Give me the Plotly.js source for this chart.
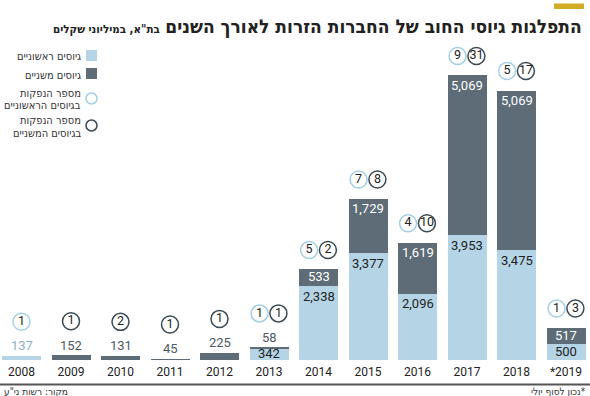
<!DOCTYPE html>
<html>
<head>
<meta charset="utf-8">
<script src="https://cdn.plot.ly/plotly-3.0.1.min.js"></script>
<style>html,body{margin:0;padding:0;background:#fff;}#chart{width:590px;height:396px;}</style>
</head>
<body>
<div id="chart"></div>
<script>
// ---- data ----
const years = ['2008', '2009', '2010', '2011', '2012', '2013', '2014', '2015', '2016', '2017', '2018', '*2019'];
const primaryRaised = [137, null, null, null, null, 342, 2338, 3377, 2096, 3953, 3475, 500];      // גיוסים ראשוניים
const secondaryRaised = [null, 152, 131, 45, 225, 58, 533, 1729, 1619, 5069, 5069, 517];      // גיוסים משניים
const primaryCount = [1, null, null, null, null, 1, 5, 7, 4, 9, 5, 1];
const secondaryCount = [null, 1, 2, 1, 1, 1, 2, 8, 10, 31, 17, 3];

const titleText = 'התפלגות גיוסי החוב של החברות הזרות לאורך השנים';
const subtitleText = 'בת"א, במיליוני שקלים';
const legendLabels = [['גיוסים ראשוניים'], ['גיוסים משניים'], ['מספר הנפקות', 'בגיוסים הראשוניים'], ['מספר הנפקות', 'בגיוסים המשניים']];
const sourceText = 'מקור: רשות ני"ע';
const noteText = '\u200F*נכון לסוף יולי';

// ---- style ----
const W = 590, H = 396, MT = 40, MB = 36;
const PH = H - MT - MB;            // plot height px
const YMAX = 10146;                // data range
const K = PH / YMAX;               // px per unit
const LIGHT = '#b5d5e7', DARK = '#5d6c77';
const CIRC_LIGHT = '#a3cfe6', CIRC_DARK = '#3c4a54';
const HEB = '"Liberation Sans Narrow", "DejaVu Sans Condensed", "Liberation Sans", sans-serif';
const NUM = 'Roboto, "Open Sans", sans-serif';
const idx = years.map((_, i) => i);
const XR = [-21.5 / 49.5, -21.5 / 49.5 + W / 49.5];
const px2paperY = py => (H - MB - py) / PH;
const px2paperX = px => px / W;

const traces = [
  {type: 'bar', x: idx, y: primaryRaised, marker: {color: LIGHT}, hoverinfo: 'skip'},
  {type: 'bar', x: idx, y: secondaryRaised, marker: {color: DARK}, hoverinfo: 'skip'}
];

const annotations = [];
// value labels
idx.forEach(i => {
  const p = primaryRaised[i] || 0, s = secondaryRaised[i] || 0, total = p + s;
  const segs = [];
  if (p) segs.push({v: p, base: 0, dark: false});
  if (s) segs.push({v: s, base: p, dark: true});
  segs.forEach(sg => {
    const h = sg.v * K;
    let y, yshift, color;
    if (h >= 20) { y = sg.base + sg.v; yshift = -10; color = sg.dark ? '#ffffff' : '#222'; }
    else if (h >= 10) { y = sg.base + sg.v / 2; yshift = 1; color = sg.dark ? '#ffffff' : '#222'; }
    else { y = total; yshift = 10; color = sg.dark ? '#4d5a64' : '#8db3c8'; }
    annotations.push({x: i, y: y, xref: 'x', yref: 'y', yshift: yshift, showarrow: false,
      text: sg.v.toLocaleString('en-US'), font: {family: NUM, size: 13, color: color}, yanchor: 'middle'});
  });
});

// count circles
const cL = {x: [], y: [], text: []}, cD = {x: [], y: [], text: []};
idx.forEach(i => {
  const p = primaryRaised[i] || 0, s = secondaryRaised[i] || 0, total = p + s;
  const outside = (s ? s : p) * K < 10;
  const off = (outside ? 34 : 19.5) / K;
  const both = primaryCount[i] != null && secondaryCount[i] != null;
  if (primaryCount[i] != null) { cL.x.push(both ? i - 0.19 : i); cL.y.push(total + off); cL.text.push(String(primaryCount[i])); }
  if (secondaryCount[i] != null) { cD.x.push(both ? i + 0.19 : i); cD.y.push(total + off); cD.text.push(String(secondaryCount[i])); }
});
[[cL, CIRC_LIGHT], [cD, CIRC_DARK]].forEach(([c, col]) => {
  traces.push({type: 'scatter', mode: 'markers+text', x: c.x, y: c.y, text: c.text, textposition: 'middle center',
    cliponaxis: false, hoverinfo: 'skip',
    marker: {size: 17, color: '#ffffff', line: {color: col, width: 1.5}},
    textfont: {family: NUM, size: 12.5, color: '#222'}});
});

// title
annotations.push({xref: 'paper', yref: 'paper', x: px2paperX(584), y: px2paperY(26), xanchor: 'right', yanchor: 'middle',
  showarrow: false, text: '<b>' + titleText + '</b> <span style="font-size:11.5px"><b>' + subtitleText + '</b></span>',
  font: {family: HEB, size: 19, color: '#222'}});
// legend
const legY = [[57], [75], [93, 105.5], [120.5, 133]];
legendLabels.forEach((lines, j) => {
  lines.forEach((t, k) => {
    annotations.push({xref: 'paper', yref: 'paper', x: px2paperX(83), y: px2paperY(legY[j][k]), xanchor: 'right', yanchor: 'middle',
      showarrow: false, text: t, font: {family: HEB, size: 11, color: '#333'}});
  });
});
// footnotes
annotations.push({xref: 'paper', yref: 'paper', x: px2paperX(2), y: px2paperY(391), xanchor: 'left', yanchor: 'middle',
  showarrow: false, text: sourceText, font: {family: HEB, size: 10, color: '#333'}});
annotations.push({xref: 'paper', yref: 'paper', x: px2paperX(588), y: px2paperY(391), xanchor: 'right', yanchor: 'middle',
  showarrow: false, text: noteText, font: {family: HEB, size: 10, color: '#333'}});

const shapes = [
  {type: 'rect', xref: 'paper', yref: 'paper', x0: px2paperX(554), x1: px2paperX(584), y0: px2paperY(3.5), y1: px2paperY(9),
    fillcolor: '#d3aa25', line: {width: 0}},
  {type: 'line', xref: 'paper', yref: 'paper', x0: 0, x1: 1, y0: px2paperY(384.5), y1: px2paperY(384.5),
    line: {color: '#555', width: 2}},
  {type: 'rect', xref: 'paper', yref: 'paper', x0: px2paperX(86), x1: px2paperX(97), y0: px2paperY(50), y1: px2paperY(61),
    fillcolor: LIGHT, line: {width: 0}},
  {type: 'rect', xref: 'paper', yref: 'paper', x0: px2paperX(86), x1: px2paperX(97), y0: px2paperY(68), y1: px2paperY(79),
    fillcolor: DARK, line: {width: 0}},
  {type: 'circle', xref: 'paper', yref: 'paper', x0: px2paperX(86), x1: px2paperX(97), y0: px2paperY(93), y1: px2paperY(104),
    fillcolor: '#fff', line: {color: CIRC_LIGHT, width: 1.5}},
  {type: 'circle', xref: 'paper', yref: 'paper', x0: px2paperX(86), x1: px2paperX(97), y0: px2paperY(120), y1: px2paperY(131),
    fillcolor: '#fff', line: {color: CIRC_DARK, width: 1.5}}
];

const layout = {
  width: W, height: H, margin: {l: 0, r: 0, t: MT, b: MB},
  paper_bgcolor: '#fff', plot_bgcolor: '#fff', showlegend: false, barmode: 'stack', bargap: 0.212,
  xaxis: {range: XR, tickmode: 'array', tickvals: idx, ticktext: years, showgrid: false, zeroline: false,
    showline: false, ticks: '', ticklabelstandoff: 3, tickfont: {family: NUM, size: 12, color: '#222'}, fixedrange: true},
  yaxis: {range: [0, YMAX], visible: false, fixedrange: true},
  annotations: annotations, shapes: shapes
};
Plotly.newPlot('chart', traces, layout, {displayModeBar: false, staticPlot: true});
</script>
</body>
</html>
